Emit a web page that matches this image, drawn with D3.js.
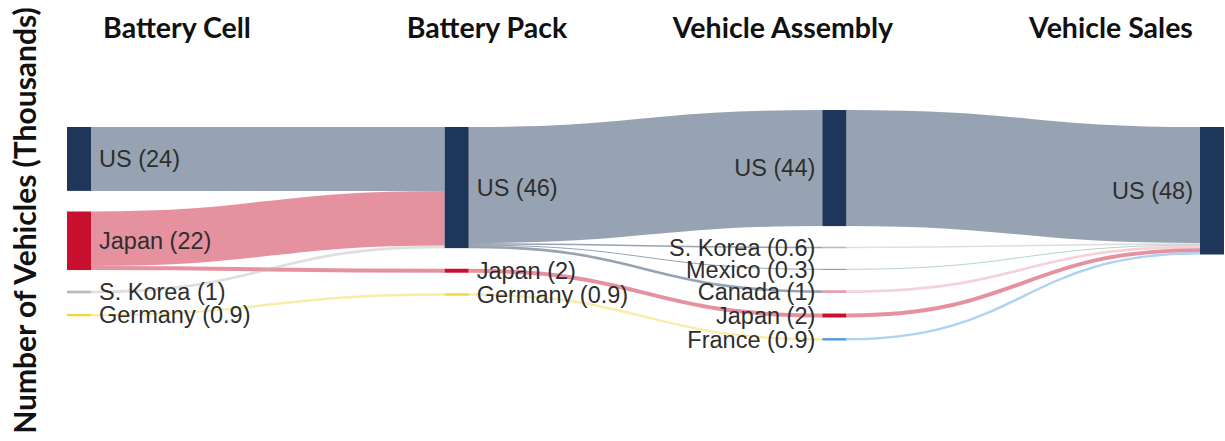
<!DOCTYPE html>
<html>
<head>
<meta charset="utf-8">
<script src="https://cdn.jsdelivr.net/npm/d3@7"></script>
<style>
  html, body { margin: 0; padding: 0; background: #ffffff; }
  svg { display: block; }
</style>
</head>
<body>
<svg id="chart" width="1225" height="441"></svg>
<script>
// Supply-chain stages (columns of the flow diagram)
const stages = ["Battery Cell", "Battery Pack", "Vehicle Assembly", "Vehicle Sales"];

// Country palette
const countries     = ["US", "Japan", "S. Korea", "Germany", "Mexico", "Canada", "France"];
const countryColors = ["#1d3659", "#c8102e", "#b9b9b9", "#f1d63c", "#5da57f", "#e99aae", "#4e9ce0"];

// Nodes: stage index and country of each node (listed top to bottom within a stage)
const nodeStage   = [0, 0, 0, 0,   1, 1, 1,   2, 2, 2, 2, 2, 2,   3];
const nodeCountry = ["US", "Japan", "S. Korea", "Germany",
                     "US", "Japan", "Germany",
                     "US", "S. Korea", "Mexico", "Canada", "Japan", "France",
                     "US"];

// Flows between nodes, thousands of vehicles
const linkSource = [0, 1, 1, 2, 3,      4, 4, 4, 4, 5, 6,          7, 8, 9, 10, 11, 12];
const linkTarget = [4, 4, 5, 4, 6,      7, 8, 9, 10, 11, 12,       13, 13, 13, 13, 13, 13];
const linkValue  = [24.1, 20.6, 1.5, 1.0, 0.9,
                    43.8, 0.6, 0.3, 1.0, 1.5, 0.9,
                    43.8, 0.6, 0.3, 1.0, 1.5, 0.9];

const axisTitle = "Number of Vehicles (Thousands)";

// ---------------------------------------------------------------------------
const W = 1225, H = 441;
const svg = d3.select("#chart");

const color = d3.scaleOrdinal().domain(countries).range(countryColors);

// Layout frame for the diagram: columns hang from `hang`, the tallest one is lifted to fit
const frame = { x0: 67, x1: 1224, y0: 110, y1: 340.5, hang: 127, nodeWidth: 24, pad: 20.6 };

const nodes = nodeStage.map((s, i) => ({ index: i, layer: s, country: nodeCountry[i], sourceLinks: [], targetLinks: [] }));
const links = linkValue.map((v, i) => ({ index: i, source: nodes[linkSource[i]], target: nodes[linkTarget[i]], value: v }));
links.forEach(l => { l.source.sourceLinks.push(l); l.target.targetLinks.push(l); });
nodes.forEach(n => {
  n.value = Math.max(d3.sum(n.sourceLinks, l => l.value), d3.sum(n.targetLinks, l => l.value));
});

// Horizontal placement: one column per stage
const xCol = d3.scalePoint().domain(d3.range(stages.length)).range([frame.x0, frame.x1 - frame.nodeWidth]);
nodes.forEach(n => { n.x0 = xCol(n.layer); n.x1 = n.x0 + frame.nodeWidth; });

const columns = d3.range(stages.length).map(k => nodes.filter(n => n.layer === k));
const py = frame.pad;

// Vertical scale: value -> thickness, limited by the fullest column
const ky = d3.min(columns, c => (frame.y1 - frame.y0 - (c.length - 1) * py) / d3.sum(c, n => n.value));
const thick = d3.scaleLinear().domain([0, 1]).range([0, ky]);

// Stack each column
columns.forEach(col => {
  const h = d3.sum(col, n => thick(n.value)) + (col.length - 1) * py;
  let y = Math.max(frame.y0, Math.min(frame.hang, frame.y1 - h));
  col.forEach(n => { n.y0 = y; n.y1 = y + thick(n.value); y = n.y1 + py; });
});
links.forEach(l => { l.width = thick(l.value); });

// Order link ends by the position of the node at the other end
nodes.forEach(n => {
  n.sourceLinks.sort((a, b) => a.target.y0 - b.target.y0);
  n.targetLinks.sort((a, b) => a.source.y0 - b.source.y0);
  let ys = n.y0;
  n.sourceLinks.forEach(l => { l.y0 = ys + l.width / 2; ys += l.width; });
  let yt = n.y0;
  n.targetLinks.forEach(l => { l.y1 = yt + l.width / 2; yt += l.width; });
});

// ---------------------------------------------------------------------------
// Links
const linkPath = d3.linkHorizontal().source(l => [l.source.x1, l.y0]).target(l => [l.target.x0, l.y1]);
svg.append("g")
  .attr("fill", "none")
  .selectAll("path")
  .data(links)
  .join("path")
  .attr("d", linkPath)
  .attr("stroke", l => color(l.source.country))
  .attr("stroke-opacity", 0.46)
  .attr("stroke-width", l => Math.max(1, l.width));

// Nodes
svg.append("g")
  .selectAll("rect")
  .data(nodes)
  .join("rect")
  .attr("x", n => n.x0)
  .attr("y", n => n.y0)
  .attr("width", n => n.x1 - n.x0)
  .attr("height", n => Math.max(1, n.y1 - n.y0))
  .attr("fill", n => color(n.country));

// Node labels: "Country (value)"
const fmt = v => v >= 1 ? d3.format(".0f")(v) : d3.format(".1f")(v);
svg.append("g")
  .attr("font-family", "'Liberation Sans', Arial, sans-serif")
  .attr("font-size", 23.5)
  .attr("fill", "#2e2e2e")
  .selectAll("text")
  .data(nodes)
  .join("text")
  .attr("x", n => n.layer < 2 ? n.x1 + 8 : n.x0 - 7)
  .attr("y", n => (n.y0 + n.y1) / 2)
  .attr("dy", "0.35em")
  .attr("text-anchor", n => n.layer < 2 ? "start" : "end")
  .text(n => `${n.country} (${fmt(n.value)})`);

// Stage headers
const headerCenter = d3.scaleOrdinal().domain(stages).range([177, 487, 783, 1111]);
svg.append("g")
  .attr("font-family", "Lato, 'Open Sans', sans-serif")
  .attr("font-weight", "bold")
  .attr("font-size", 28.5)
  .attr("fill", "#111")
  .attr("text-anchor", "middle")
  .selectAll("text")
  .data(stages)
  .join("text")
  .attr("x", s => headerCenter(s))
  .attr("y", 37.5)
  .text(s => s);

// Vertical axis title
svg.append("text")
  .attr("transform", `translate(36,${H / 2}) rotate(-90)`)
  .attr("font-family", "Lato, 'Open Sans', sans-serif")
  .attr("font-weight", "bold")
  .attr("font-size", 30)
  .attr("fill", "#111")
  .attr("text-anchor", "middle")
  .text(axisTitle);
</script>
</body>
</html>
